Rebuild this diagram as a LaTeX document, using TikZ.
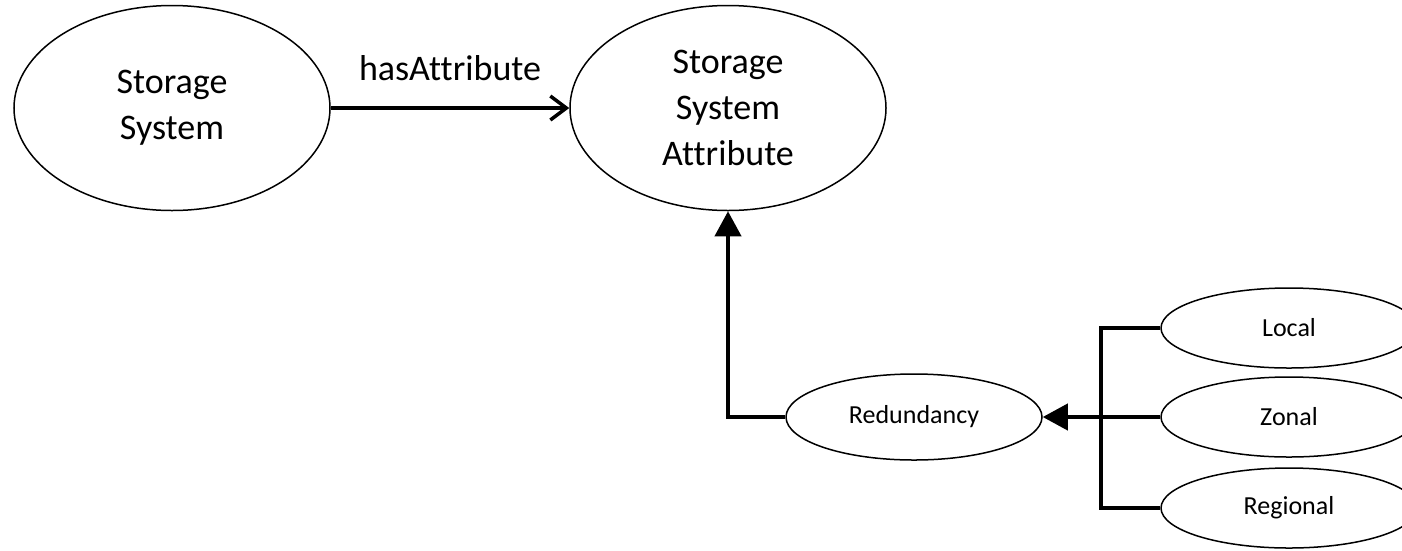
\documentclass[tikz,border=0pt]{standalone}
\usepackage{fontspec}
\setmainfont[Ligatures=NoCommon]{Carlito}
\usetikzlibrary{shapes.geometric,arrows.meta}

\begin{document}
\begin{tikzpicture}[x=1pt,y=-1pt,line width=1.5pt]

      \clip (0,0) rectangle (1402,550);

      \begin{scope}[every node/.style={ellipse,draw,inner sep=0pt,align=center,
          minimum width=316pt,minimum height=205pt,font=\fontsize{36}{46}\selectfont}]
        \node (sys)  at (172,108) {Storage\\System};
        \node (attr) at (728,108) {Storage\\System\\Attribute};
      \end{scope}

      \begin{scope}[every node/.style={ellipse,draw,inner sep=0pt,
          minimum width=256pt,minimum height=80pt,font=\fontsize{26}{31}\selectfont}]
        \node[minimum height=86pt] (red) at (914,417) {Redundancy};
        \node (loc) at (1289,328) {Local};
        \node (zon) at (1289,417) {Zonal};
        \node (reg) at (1289,508) {Regional};
      \end{scope}

      \coordinate (bus) at (1101,417);

      \begin{scope}[line width=4pt]
        \path (sys) edge[line width=3.5pt,-{Straight Barb[length=16pt,width=24pt]}]
          node[above=25pt,inner sep=0pt,font=\fontsize{36}{46}\selectfont] {hasAttribute} (attr);
        \draw[-{Triangle[length=25pt,width=26pt]}] (red.west) -| (attr.south);
        \draw (loc.west) -| (bus) |- (reg.west);
        \draw[-{Triangle[length=25pt,width=26pt]}] (zon.west) -- (red.east);
      \end{scope}

\end{tikzpicture}
\end{document}
